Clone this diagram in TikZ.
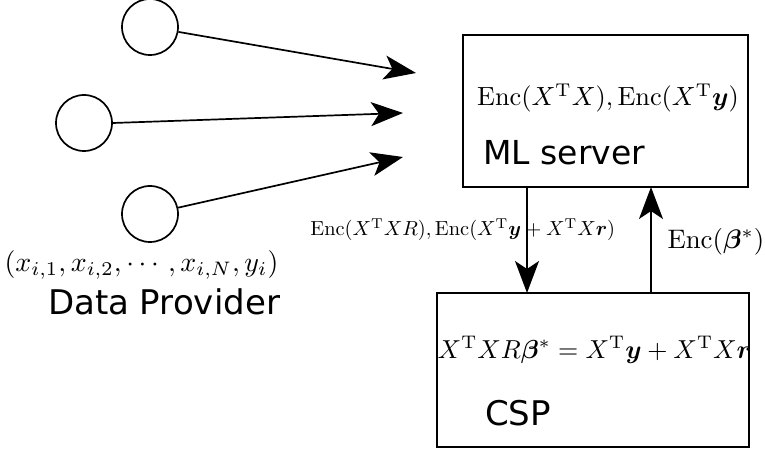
\documentclass[tikz,border=0pt]{standalone}
\usepackage{amsmath,bm}
\usepackage{fontspec}
\newfontfamily\lblfont{DejaVu Sans}
\usetikzlibrary{arrows.meta}
\begin{document}
\begin{tikzpicture}[x=1pt,y=-1pt,
  party/.style={draw,line width=1.7pt,circle,minimum size=56pt,inner sep=0pt},
  boxnode/.style={draw,line width=1.7pt,rectangle,inner sep=0pt},
  link/.style={line width=1.7pt,-{Stealth[length=32pt,width=24pt,inset=8pt]}},
  lbl/.style={font=\lblfont\fontsize{34}{40}\selectfont,inner sep=0pt},
  mth/.style={inner sep=0pt}]
\useasboundingbox (0,0) rectangle (765,454);
\node[party] (p1) at (150,27) {};
\node[party] (p2) at (84,123) {};
\node[party] (p3) at (150,214) {};
\coordinate (t1) at (416,73);
\coordinate (t2) at (403,113);
\coordinate (t3) at (403,157);
\draw[link] (p1) -- (t1);
\draw[link] (p2.east) -- (t2);
\draw[link] (p3) -- (t3);
\node[mth,scale=2.79] (dl) at (141.5,265) {$(x_{i,1},x_{i,2},\cdots,x_{i,N},y_i)$};
\node[lbl] (dp) at (164,302) {Data Provider};
\node[boxnode,minimum width=285pt,minimum height=152pt] (ml) at (605.5,111) {};
\node[mth,scale=2.63] (mlt) at (608,98) {$\mathrm{Enc}(X^{\mathrm{T}}X),\mathrm{Enc}(X^{\mathrm{T}}\bm{y})$};
\node[lbl,anchor=west,font=\lblfont\fontsize{33}{40}\selectfont] (mll) at (483,153) {ML server};
\node[boxnode,minimum width=312pt,minimum height=154pt] (csp) at (593,370) {};
\node[mth,scale=2.6] (cspt) at (594.5,350) {$X^{\mathrm{T}}XR\bm{\beta}^{*}=X^{\mathrm{T}}\bm{y}+X^{\mathrm{T}}X\bm{r}$};
\node[lbl,anchor=west] (cspl) at (485,413) {CSP};
\coordinate (dtop) at (527,187);
\coordinate (dbot) at (527,293);
\coordinate (utop) at (651,187);
\coordinate (ubot) at (651,293);
\draw[link] (dtop) -- (dbot);
\draw[link] (ubot) -- (utop);
\node[mth,scale=2.04,anchor=west] (dlab) at (310,230) {$\mathrm{Enc}(X^{\mathrm{T}}XR),\mathrm{Enc}(X^{\mathrm{T}}\bm{y}+X^{\mathrm{T}}X\bm{r})$};
\node[mth,scale=2.68,anchor=west] (ulab) at (667,242) {$\mathrm{Enc}(\bm{\beta}^{*})$};
\end{tikzpicture}
\end{document}
